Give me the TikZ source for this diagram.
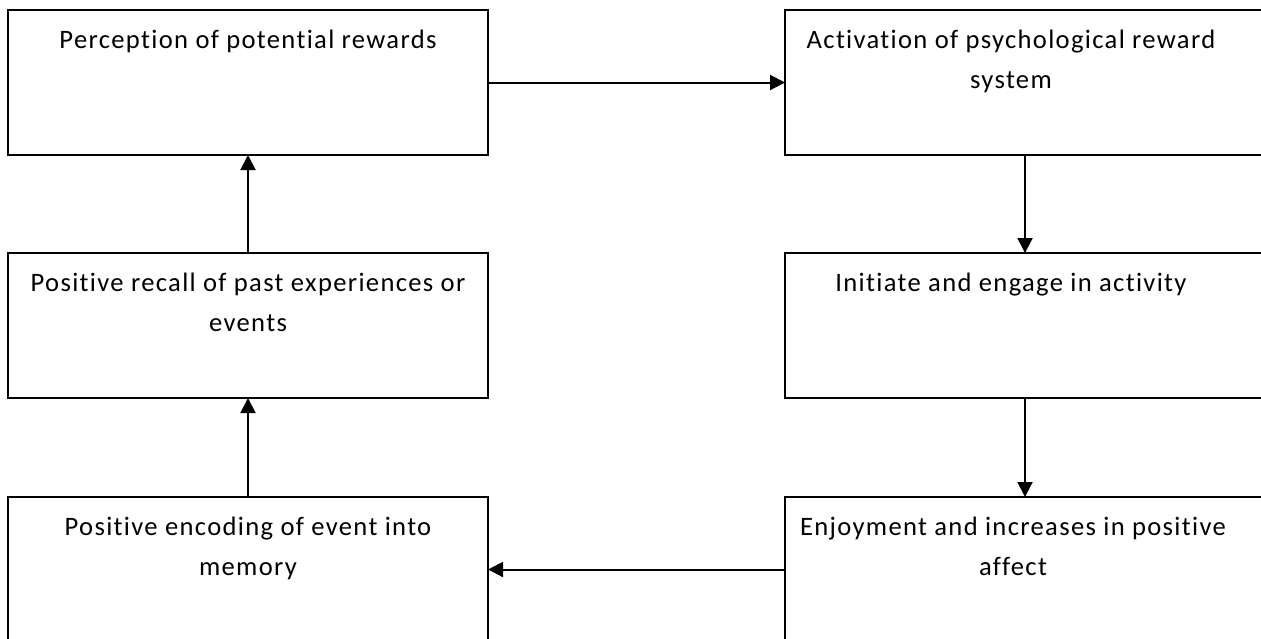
\documentclass[tikz,border=0pt]{standalone}
\usepackage{fontspec}
\setmainfont{Carlito}[Ligatures=CommonOff,LetterSpace=5]
\usetikzlibrary{arrows.meta,positioning}
\hyphenpenalty=10000
\exhyphenpenalty=10000

\tikzset{
  stage/.style={draw,line width=1pt,anchor=north west,outer sep=0pt,inner sep=0pt,
                minimum width=240pt,minimum height=72.5pt},
  stagetext/.style={anchor=base,inner sep=0pt,align=flush center,
                    font=\fontsize{13.3}{20}\selectfont},
  lefttext/.style={stagetext,text width=230pt},
  righttext/.style={stagetext,text width=224pt}
}

\begin{document}
\begin{tikzpicture}[>={Triangle[length=7.5pt,width=7.5pt]},x=0.5pt,y=-0.5pt,line width=1pt]
    \clip (0,0) rectangle (1261,638);
    \fill[white] (0,0) rectangle (1261,638);
    % left column
    \node[stage] (perc) at (8,10) {};
    \node[stage] (recall) at (8,253) {};
    \node[stage] (encode) at (8,497) {};
    % right column
    \node[stage] (activ) at (785,10) {};
    \node[stage] (init) at (785,253) {};
    \node[stage] (enjoy) at (785,497) {};
    % texts
    \node[lefttext] (perc-txt) at ([yshift=-19pt]perc.north) {Perception of potential rewards};
    \node[lefttext] (recall-txt) at ([yshift=-19pt]recall.north) {Positive recall of past experiences or events};
    \node[lefttext] (encode-txt) at ([yshift=-19pt]encode.north) {Positive encoding of event into memory};
    \node[righttext] (activ-txt) at ([xshift=113pt,yshift=-19pt]activ.north west) {Activation of psychological reward system};
    \node[righttext] (init-txt) at ([xshift=113pt,yshift=-19pt]init.north west) {Initiate and engage in activity};
    \node[righttext] (enjoy-txt) at ([xshift=114pt,yshift=-19pt]enjoy.north west) {Enjoyment and increases in positive affect};
    % arrows
    \draw[->] (perc) -- (activ);
    \draw[->] (activ) -- (init);
    \draw[->] (init) -- (enjoy);
    \draw[->] (enjoy) -- (encode);
    \draw[->] (encode) -- (recall);
    \draw[->] (recall) -- (perc);
\end{tikzpicture}
\end{document}
